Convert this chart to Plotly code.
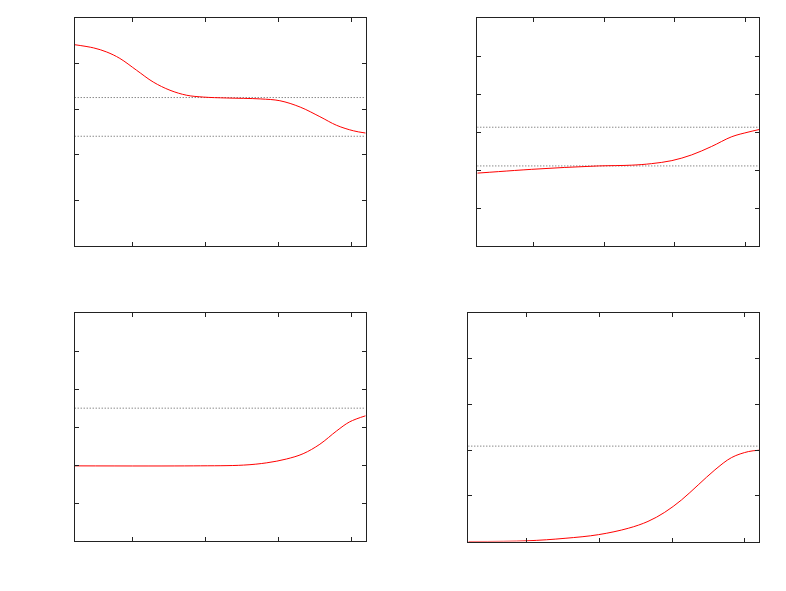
import plotly.graph_objects as go
from plotly.subplots import make_subplots

# Values (x runs 0..4, y in each panel's own units)
x_tl = [0.0, 0.26, 0.44, 0.62, 0.85, 1.08, 1.31, 1.54, 1.77, 2.09, 2.55, 2.82, 3.10, 3.37, 3.60, 3.83, 4.0]
y_tl = [4.42, 4.35, 4.26, 4.12, 3.86, 3.60, 3.42, 3.31, 3.27, 3.25, 3.23, 3.19, 3.05, 2.84, 2.65, 2.53, 2.48]
ref_tl = [3.26, 2.41]

x_tr = [0.0, 0.30, 0.77, 1.24, 1.72, 2.19, 2.47, 2.76, 3.04, 3.32, 3.61, 3.84, 4.0]
y_tr = [1.92, 1.96, 2.02, 2.07, 2.11, 2.13, 2.17, 2.25, 2.40, 2.62, 2.88, 3.00, 3.07]
ref_tr = [3.13, 2.11]

x_bl = [0.0, 1.63, 2.32, 2.64, 2.91, 3.14, 3.37, 3.60, 3.78, 4.0]
y_bl = [1.98, 1.98, 2.00, 2.06, 2.16, 2.30, 2.55, 2.90, 3.14, 3.30]
ref_bl = [3.50]

x_br = [0.0, 0.8, 1.33, 1.79, 2.20, 2.47, 2.70, 2.93, 3.16, 3.39, 3.62, 3.85, 4.0]
y_br = [0.0, 0.015, 0.07, 0.15, 0.29, 0.44, 0.64, 0.91, 1.24, 1.57, 1.84, 1.97, 2.0]
ref_br = [2.09]

x_ticks = [0.8, 1.8, 2.8, 3.8]
y_range_5 = [0, 5]
y_range_6 = [0, 6]

panels = [
    (x_tl, y_tl, ref_tl, y_range_5, 1, 1),
    (x_tr, y_tr, ref_tr, y_range_6, 1, 2),
    (x_bl, y_bl, ref_bl, y_range_6, 2, 1),
    (x_br, y_br, ref_br, y_range_5, 2, 2),
]

fig = make_subplots(rows=2, cols=2)

for xs, ys, refs, yr, r, c in panels:
    for ref in refs:
        fig.add_trace(go.Scatter(
            x=[0, 4], y=[ref, ref], mode='lines',
            line=dict(color='#555555', width=1, dash='1px,2px'),
            hoverinfo='skip'
        ), row=r, col=c)
    fig.add_trace(go.Scatter(
        x=xs, y=ys, mode='lines',
        line=dict(color='red', width=1, shape='spline'),
        hoverinfo='skip'
    ), row=r, col=c)
    fig.update_xaxes(range=[0, 4], tickvals=x_ticks, row=r, col=c)
    fig.update_yaxes(range=yr, tickvals=list(range(1, yr[1])), row=r, col=c)

axis_style = dict(
    showgrid=False, zeroline=False, showticklabels=False,
    showline=True, linecolor='#222222', linewidth=1, mirror='ticks',
    ticks='inside', ticklen=4, tickcolor='#222222', tickwidth=1,
)
fig.update_xaxes(**axis_style)
fig.update_yaxes(**axis_style)

W, H = 786, 591
OFF = 8  # page body margin shifts the figure by 8px
# plot frames in page pixels: (left, right, top, bottom)
frames = {
    (1, 1): (74.7, 365.7, 18.3, 246.0),
    (1, 2): (477.3, 759.3, 18.3, 246.0),
    (2, 1): (74.7, 365.7, 313.3, 541.0),
    (2, 2): (468.3, 759.3, 313.3, 541.5),
}
for (r, c), (l, rt, t, b) in frames.items():
    fig.update_xaxes(domain=[(l - OFF) / W, (rt - OFF) / W], row=r, col=c)
    fig.update_yaxes(domain=[1 - (b - OFF) / H, 1 - (t - OFF) / H], row=r, col=c)

fig.update_layout(
    width=W, height=H,
    showlegend=False,
    plot_bgcolor='white',
    paper_bgcolor='white',
    margin=dict(l=0, r=0, t=0, b=0),
)

fig.write_html("out.html")
